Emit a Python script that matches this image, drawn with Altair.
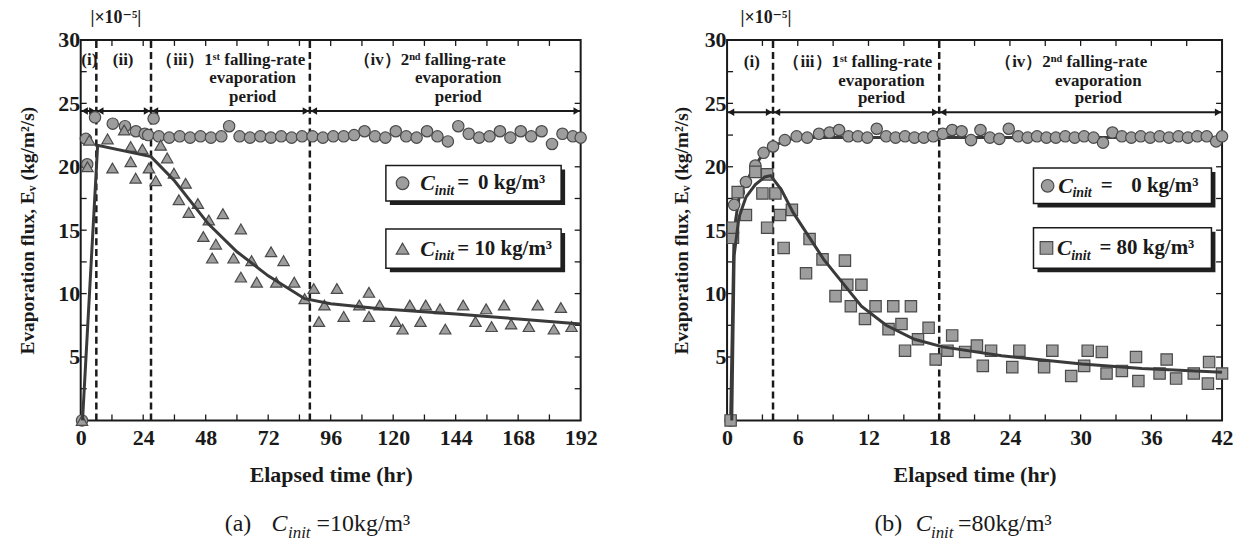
import altair as alt
import pandas as pd

FONT = "Liberation Serif, DejaVu Serif, serif"
INK = "#1a1a1a"
MFILL = "#9d9d9d"
MSTROKE = "#4a4a4a"
LINEC = "#3a3a3a"

# ---------------- panel (a): C_init = 10 kg/m3 ----------------
a_circle_x = [0.5, 2.0, 2.5, 5.5, 12.3, 17.0, 21.2, 24.6, 25.9, 28.0,
              30, 34, 38, 42, 46, 50, 54, 57, 61, 65, 69, 73, 77, 81, 85, 89, 93, 97,
              101, 105, 109, 113, 117, 121, 125, 129, 133, 137, 141, 145, 149, 153,
              157, 161, 165, 169, 173, 177, 181, 185, 189, 192]
a_circle_y = [0.0, 22.2, 20.2, 23.9, 23.4, 23.2, 22.8, 22.6, 22.5, 23.8,
              22.4, 22.3, 22.4, 22.3, 22.4, 22.3, 22.4, 23.2, 22.4, 22.3, 22.4, 22.3, 22.4,
              22.3, 22.4, 22.4, 22.3, 22.4, 22.4, 22.5, 22.8, 22.4, 22.3, 22.8, 22.4, 22.3,
              22.8, 22.4, 22.0, 23.2, 22.6, 22.3, 22.4, 22.8, 22.3, 22.8, 22.4, 22.8, 21.8,
              22.6, 22.4, 22.3]
a_tri_x = [0.5, 2.6, 3.3, 10.3, 12.2, 16.7, 19.2, 19.2, 21.1, 23.7, 26.2, 28.8, 30.7,
           33.2, 35.8, 40.3, 37.7, 41.5, 45.0, 49.2, 54.6, 47.1, 51.9, 50.5, 58.7, 61.5,
           61.5, 65.6, 67.6, 73.1, 77.9, 75.1, 82.0, 86.0, 89.5, 91.5, 93.6, 98.4, 101.0,
           107.0, 110.7, 110.7, 114.8, 121.0, 123.6, 126.4, 130.5, 132.5, 138.0, 140.0,
           146.9, 151.6, 155.7, 157.8, 162.6, 165.3, 172.1, 175.5, 181.7, 184.4, 188.5]
a_tri_y = [0.0, 20.0, 22.1, 22.2, 19.9, 22.9, 21.6, 20.4, 19.1, 21.4, 19.9, 18.9, 21.7,
           20.7, 19.5, 18.7, 17.4, 16.4, 17.1, 15.8, 16.3, 14.5, 13.9, 12.8, 12.8, 15.1,
           11.3, 12.6, 10.9, 13.3, 12.6, 10.9, 10.9, 9.6, 10.4, 7.8, 9.1, 10.4, 8.2,
           9.1, 10.1, 8.2, 9.1, 7.8, 7.2, 9.1, 7.8, 9.1, 8.8, 7.2,
           9.1, 7.8, 8.8, 7.4, 9.1, 7.6, 7.4, 9.1, 7.2, 8.9, 7.4]
a_fit_x = [0.7, 6.5, 27.0, 36.0, 49.0, 60.0, 72.0, 86.0, 96.0, 115.0, 144.0, 168.0, 192.0]
a_fit_y = [0.0, 21.7, 20.8, 18.9, 15.5, 13.3, 11.4, 9.6, 9.2, 8.8, 8.4, 8.0, 7.6]
a_bounds = [0, 6, 27, 88, 192]
a_xlabels = [0, 24, 48, 72, 96, 120, 144, 168, 192]
a_xminor = [12, 24, 36, 48, 60, 72, 84, 96, 108, 120, 132, 144, 156, 168, 180]

# ---------------- panel (b): C_init = 80 kg/m3 ----------------
b_circle_x = [0.3, 0.6, 1.0, 1.6, 2.4, 3.1, 3.9, 4.9, 5.9, 6.8, 7.8, 8.7, 9.5, 10.3, 11.1,
              11.9, 12.7, 13.5, 14.3, 15.1, 15.9, 16.7, 17.5, 18.3, 19.1, 19.9, 20.7, 21.5,
              22.3, 23.1, 23.9, 24.7, 25.5, 26.3, 27.1, 27.9, 28.7, 29.5, 30.3, 31.1, 31.9,
              32.7, 33.5, 34.3, 35.1, 35.9, 36.7, 37.5, 38.3, 39.1, 39.9, 40.7, 41.5, 42.0]
b_circle_y = [0.0, 17.0, 18.0, 18.8, 20.1, 21.1, 21.6, 22.1, 22.4, 22.3, 22.6, 22.7, 22.9,
              22.4, 22.4, 22.3, 23.0, 22.4, 22.3, 22.4, 22.3, 22.3, 22.4, 22.6, 22.9, 22.8,
              22.1, 22.9, 22.3, 22.2, 23.0, 22.4, 22.3, 22.4, 22.3, 22.3, 22.4, 22.3, 22.4,
              22.3, 21.9, 22.7, 22.4, 22.3, 22.4, 22.3, 22.4, 22.3, 22.4, 22.3, 22.4, 22.4,
              22.0, 22.4]
b_sq_x = [0.3, 0.5, 0.5, 0.9, 1.6, 2.4, 3.0, 3.4, 3.4, 4.1, 4.5, 4.8, 5.5, 6.7, 7.0, 8.1,
          9.2, 10.0, 10.2, 10.5, 11.4, 11.7, 12.6, 13.7, 14.1, 14.8, 15.1, 15.6, 16.2, 17.1,
          17.7, 18.7, 19.1, 20.2, 21.2, 21.7, 22.4, 24.2, 24.8, 26.9, 27.6, 29.2, 30.3, 30.6,
          31.8, 32.2, 33.5, 34.7, 34.9, 36.7, 37.3, 38.1, 39.6, 40.9, 40.8, 42.0]
b_sq_y = [0.0, 14.4, 15.2, 18.0, 16.2, 19.6, 17.9, 19.4, 15.2, 17.9, 16.2, 13.6, 16.6, 11.6,
          14.3, 12.7, 9.8, 12.6, 10.7, 9.0, 10.7, 8.0, 9.0, 7.2, 9.0, 7.6, 5.5, 9.0, 6.4, 7.3,
          4.8, 5.5, 6.7, 5.4, 5.9, 4.3, 5.5, 4.2, 5.5, 4.2, 5.5, 3.5, 4.3, 5.5,
          5.4, 3.7, 3.9, 5.0, 3.1, 3.7, 4.8, 3.3, 3.7, 4.6, 2.9, 3.7]
b_fit0_x = [0.3, 0.6, 1.0, 1.6, 2.4, 3.1, 3.9, 5.0, 6.0, 42.0]
b_fit0_y = [0.0, 15.0, 17.5, 18.8, 20.1, 21.1, 21.6, 22.1, 22.3, 22.3]
b_fit_x = [0.4, 0.6, 1.0, 1.6, 2.4, 3.2, 3.7, 4.6, 5.6, 8.2, 11.4, 13.5, 15.9, 18.3,
           23.3, 30.1, 35.2, 42.0]
b_fit_y = [0.0, 13.0, 16.0, 17.6, 18.6, 19.2, 19.3, 18.2, 16.4, 12.7, 9.0, 7.5, 6.4, 5.8,
           5.1, 4.45, 4.1, 3.8]
b_bounds = [0, 3.9, 18, 42]
b_xlabels = [0, 6, 12, 18, 24, 30, 36, 42]
b_xminor = [3, 6, 9, 12, 15, 18, 21, 24, 27, 30, 33, 36, 39]

y_labels = [5, 10, 15, 20, 25, 30]
y_minor = [2.5, 5, 7.5, 10, 12.5, 15, 17.5, 20, 22.5, 25, 27.5]


def panel(W, H, xmax, xlabels, xminor, bounds, arrow_y, series, fits, hdr_c, ytp,
          boxes, leg_marks, leg_C, leg_sub, leg_txt, cap_txt, cap_C, cap_sub, scale_txt):
    xs = alt.Scale(domain=[0, xmax], nice=False, zero=False)
    ys = alt.Scale(domain=[0, 30], nice=False, zero=False)
    px_x = xmax / W   # data units per pixel (x)
    px_y = 30.0 / H   # data units per pixel (y)

    xaxis = alt.Axis(values=xlabels, title="Elapsed time (hr)", ticks=False, tickSize=0,
                     domain=False, grid=False, labelFont=FONT, labelFontSize=22,
                     labelFontWeight="bold", labelColor=INK, labelPadding=7, labelFlush=False,
                     titleFont=FONT, titleFontSize=22, titleFontWeight="bold",
                     titleColor=INK, titlePadding=16)
    yaxis = alt.Axis(values=y_labels, title="Evaporation flux,  Eᵥ (kg/m²/s)", ticks=False,
                     tickSize=0, domain=False, grid=False, labelFont=FONT, labelFontSize=22,
                     labelFontWeight="bold", labelColor=INK, labelPadding=1, labelFlush=False,
                     titleFont=FONT, titleFontSize=19.5, titleFontWeight="bold",
                     titleColor=INK, titlePadding=ytp)

    def X(f):
        return alt.X(f"{f}:Q", scale=xs, axis=xaxis)

    def Y(f):
        return alt.Y(f"{f}:Q", scale=ys, axis=yaxis)

    layers = []
    dash = pd.DataFrame({"x": bounds[1:-1], "y0": 0, "y1": 30})
    layers.append(alt.Chart(dash).mark_rule(color=INK, strokeWidth=2.5, strokeDash=[7, 4])
                  .encode(x=X("x"), y=Y("y0"), y2="y1:Q"))

    tk = []
    for v in xminor:
        tk.append({"x": v, "x2": v, "y": 0, "y2": 6 * px_y})
        tk.append({"x": v, "x2": v, "y": 30, "y2": 30 - 6 * px_y})
    for v in y_minor:
        tk.append({"x": 0, "x2": 6 * px_x, "y": v, "y2": v})
        tk.append({"x": xmax, "x2": xmax - 6 * px_x, "y": v, "y2": v})
    layers.append(alt.Chart(pd.DataFrame(tk)).mark_rule(color=INK, strokeWidth=1.3)
                  .encode(x=X("x"), x2="x2:Q", y=Y("y"), y2="y2:Q"))

    layers.append(alt.Chart(pd.DataFrame({"x": [bounds[0]], "x2": [bounds[-1]], "y": [arrow_y]}))
                  .mark_rule(color=INK, strokeWidth=1.8)
                  .encode(x=X("x"), x2="x2:Q", y=Y("y")))
    heads = []
    off = 4 * px_x
    for s, e in zip(bounds[:-1], bounds[1:]):
        heads.append({"x": s + off, "y": arrow_y, "d": "L"})
        heads.append({"x": e - off, "y": arrow_y, "d": "R"})
    layers.append(alt.Chart(pd.DataFrame(heads)).mark_point(filled=True, size=55, color=INK, opacity=1)
                  .encode(x=X("x"), y=Y("y"),
                          shape=alt.Shape("d:N", scale=alt.Scale(domain=["L", "R"],
                                          range=["triangle-left", "triangle-right"]), legend=None)))

    for fx, fy, above in fits:
        if not above:
            layers.append(alt.Chart(pd.DataFrame({"x": fx, "y": fy})).mark_line(color=LINEC, strokeWidth=3)
                          .encode(x=X("x"), y=Y("y")))
    for sx, sy, shape in series:
        layers.append(alt.Chart(pd.DataFrame({"x": sx, "y": sy}))
                      .mark_point(shape=shape, filled=True, fill=MFILL, stroke=MSTROKE,
                                  strokeWidth=1.2, size=130, opacity=1)
                      .encode(x=X("x"), y=Y("y")))
    for fx, fy, above in fits:
        if above:
            layers.append(alt.Chart(pd.DataFrame({"x": fx, "y": fy})).mark_line(color=LINEC, strokeWidth=3)
                          .encode(x=X("x"), y=Y("y")))

    bx = pd.DataFrame(boxes, columns=["x", "x2", "y", "y2"])
    sh = bx.copy()
    sh["x"] = sh["x"] + 4 * px_x
    sh["x2"] = sh["x2"] + 4 * px_x
    sh["y"] = sh["y"] - 4 * px_y
    sh["y2"] = sh["y2"] - 4 * px_y
    layers.append(alt.Chart(sh).mark_rect(fill="#202020")
                  .encode(x=X("x"), x2="x2:Q", y=Y("y"), y2="y2:Q"))
    layers.append(alt.Chart(bx).mark_rect(fill="white", stroke=INK, strokeWidth=1.5)
                  .encode(x=X("x"), x2="x2:Q", y=Y("y"), y2="y2:Q"))
    for lx, ly, shape in leg_marks:
        layers.append(alt.Chart(pd.DataFrame({"x": [lx], "y": [ly]}))
                      .mark_point(shape=shape, filled=True, fill=MFILL, stroke=MSTROKE,
                                  strokeWidth=1.2, size=160, opacity=1)
                      .encode(x=X("x"), y=Y("y")))

    def txt(rows, size, align="left", weight="bold", style="normal"):
        df = pd.DataFrame(rows, columns=["x", "y", "t"])
        layers.append(alt.Chart(df).mark_text(font=FONT, fontSize=size, fontWeight=weight,
                                              fontStyle=style, align=align, baseline="middle",
                                              color=INK)
                      .encode(x=X("x"), y=Y("y"), text="t:N"))

    txt(hdr_c, 17, align="center")
    txt(scale_txt, 18, align="center")
    txt(leg_C, 22, style="italic")
    txt(leg_sub, 14, style="italic")
    txt(leg_txt, 21)
    txt(cap_txt, 24, weight="normal")
    txt(cap_C, 24, weight="normal", style="italic")
    txt(cap_sub, 17, weight="normal", style="italic")

    return alt.layer(*layers).properties(width=W, height=H)


H = 382
pa = panel(
    W=502, H=H, xmax=192, xlabels=a_xlabels, xminor=a_xminor, bounds=a_bounds, arrow_y=24.4,
    series=[(a_circle_x, a_circle_y, "circle"), (a_tri_x, a_tri_y, "triangle-up")],
    fits=[(a_fit_x, a_fit_y, True)], ytp=20,
    hdr_c=[(3.3, 28.4, "(i)"), (16.3, 28.4, "(ii)"), (57.6, 28.4, "（iii）1ˢᵗ falling-rate"),
           (66.0, 27.0, "evaporation"), (66.0, 25.5, "period"),
           (134.0, 28.4, "（iv）2ⁿᵈ falling-rate"), (145.0, 27.0, "evaporation"),
           (145.0, 25.5, "period")],
    boxes=[(117.2, 184.5, 20.1, 17.3), (117.2, 184.5, 15.1, 12.0)],
    leg_marks=[(123.6, 18.7, "circle"), (123.6, 13.55, "triangle-up")],
    leg_C=[(130.4, 18.7, "C"), (130.4, 13.55, "C")],
    leg_sub=[(136.0, 18.1, "init"), (136.0, 12.95, "init")],
    leg_txt=[(144.6, 18.7, "="), (152.6, 18.7, "0 kg/m³"), (144.6, 13.55, "= 10 kg/m³")],
    cap_txt=[(55.3, -8.2, "(a)"), (90.6, -8.2, "=10kg/m³")],
    cap_C=[(73.3, -8.2, "C")],
    cap_sub=[(79.6, -8.9, "init")],
    scale_txt=[(13.5, 31.75, "|×10⁻⁵|")],
)
pb = panel(
    W=497, H=H, xmax=42, xlabels=b_xlabels, xminor=b_xminor, bounds=b_bounds, arrow_y=24.3,
    series=[(b_circle_x, b_circle_y, "circle"), (b_sq_x, b_sq_y, "square")],
    fits=[(b_fit0_x, b_fit0_y, False), (b_fit_x, b_fit_y, True)], ytp=13,
    hdr_c=[(2.1, 28.3, "(i)"), (11.1, 28.3, "（iii）1ˢᵗ falling-rate"),
           (13.1, 26.8, "evaporation"), (13.1, 25.4, "period"),
           (29.2, 28.3, "（iv）2ⁿᵈ falling-rate"), (31.5, 26.8, "evaporation"),
           (31.5, 25.4, "period")],
    boxes=[(26.0, 41.1, 19.9, 17.1), (26.0, 41.1, 15.2, 12.0)],
    leg_marks=[(27.2, 18.5, "circle"), (27.1, 13.6, "square")],
    leg_C=[(28.1, 18.5, "C"), (28.0, 13.6, "C")],
    leg_sub=[(29.3, 17.9, "init"), (29.2, 13.0, "init")],
    leg_txt=[(31.7, 18.5, "="), (34.3, 18.5, "0 kg/m³"), (31.6, 13.6, "= 80 kg/m³")],
    cap_txt=[(12.5, -8.2, "(b)"), (19.6, -8.2, "=80kg/m³")],
    cap_C=[(16.0, -8.2, "C")],
    cap_sub=[(17.3, -8.9, "init")],
    scale_txt=[(3.3, 31.75, "|×10⁻⁵|")],
)

chart = (alt.hconcat(pa, pb, spacing=72)
         .properties(padding={"left": 9, "top": -2, "right": 0, "bottom": 0},
                     background="white")
         .configure_view(stroke=INK, strokeWidth=2))

chart.save("out.html", embed_options={"renderer": "svg", "actions": False})
